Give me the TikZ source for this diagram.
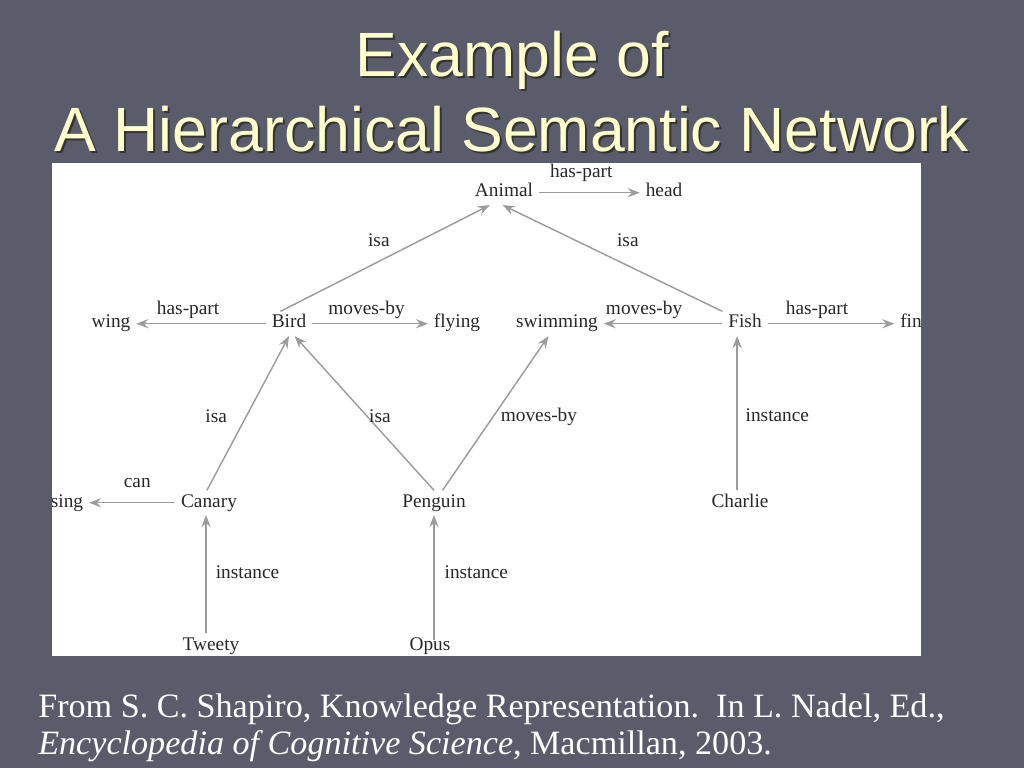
\documentclass[tikz,border=0pt]{standalone}
\usepackage{fontspec}
\setmainfont{Liberation Serif}
\newfontfamily\titlefont{Liberation Sans}
\usepackage{xcolor}
\usepackage{tikz}
\usetikzlibrary{arrows.meta,positioning,calc}
\tikzset{
  txt/.style    ={text=nodeink, font=\fontsize{13.6}{16}\selectfont,
                  text height=9pt, text depth=3pt},
  cnode/.style  ={txt, inner xsep=4pt, inner ysep=2.5pt, anchor=base},
  elabel/.style ={txt, inner sep=1.5pt},
  rarr/.style   ={-{Stealth[length=8.5pt,width=6.5pt,inset=3pt]},
                  draw=edgegray, line width=1pt},
  ttl/.style    ={font=\titlefont\fontsize{44}{52}\selectfont,
                  text=titleyellow, anchor=base, inner sep=0pt},
  ttlshadow/.style={ttl, text=black!80},
  cite/.style   ={font=\fontsize{24}{28}\selectfont, text=white,
                  anchor=base west, inner sep=0pt},
}
\definecolor{slidebg}   {RGB}{90,92,108}
\definecolor{titleyellow}{RGB}{255,255,204}
\definecolor{edgegray}  {RGB}{155,155,155}
\definecolor{nodeink}   {RGB}{40,40,40}

\begin{document}
\begin{tikzpicture}[x=0.703125pt,y=-0.703125pt]
  \useasboundingbox[fill=slidebg] (0,0) rectangle (1024,768);
  % title
  \node[ttlshadow] (title1s) at (514,79) {Example of};
  \node[ttlshadow] (title2s) at (514,154) {A Hierarchical Semantic Network};
  \node[ttl] (title1) at (512,77) {Example of};
  \node[ttl] (title2) at (512,152) {A Hierarchical Semantic Network};
  % panel
  \fill[white] (52,163) rectangle (921,656);
  \begin{scope}
  \clip (52,163) rectangle (921,656);
  \node[cnode] (animal)   at (504,197) {Animal};
  \node[cnode] (head)     at (664,197) {head};
  \node[cnode] (bird)     at (289,328) {Bird};
  \node[cnode] (wing)     at (111,328) {wing};
  \node[cnode] (flying)   at (457,328) {flying};
  \node[cnode] (swimming) at (557,328) {swimming};
  \node[cnode] (fish)     at (745,328) {Fish};
  \node[cnode] (fin)      at (911,328) {fin};
  \node[cnode] (canary)   at (209,507) {Canary};
  \node[cnode] (sing)     at (67,507)  {sing};
  \node[cnode] (penguin)  at (434,507) {Penguin};
  \node[cnode] (charlie)  at (740,507) {Charlie};
  \node[cnode] (tweety)   at (211,650) {Tweety};
  \node[cnode] (opus)     at (430,650) {Opus};

  \draw[rarr](animal)--(head) node[elabel, pos=.42, above=5.5pt] (lanimalhead) {has-part};
  \draw[rarr]([xshift=-6pt]bird.north)--([xshift=-10pt]animal.south)
    node[elabel, pos=.47, above=5.5pt] (lbirdanimal) {isa};
  \draw[rarr](fish.north west)--([xshift=-1pt]animal.south)
    node[elabel, pos=.43, above=8.5pt] (lfishanimal) {isa};
  \draw[rarr](bird)--(wing) node[elabel, pos=.6, above=1.5pt] (lbirdwing) {has-part};
  \draw[rarr](bird)--(flying) node[elabel, pos=.47, above=1.5pt] (lbirdflying) {moves-by};
  \draw[rarr](fish)--(swimming) node[elabel, pos=.66, above=1.5pt] (lfishswim) {moves-by};
  \draw[rarr](fish)--(fin) node[elabel, pos=.39, above=1.5pt] (lfishfin) {has-part};
  \draw[rarr]([xshift=-1.5pt]canary.north)--(bird.south)
    node[elabel, pos=.47, left=11pt] (lcanarybird) {isa};
  \draw[rarr](penguin.north)--([xshift=4pt]bird.south)
    node[elabel, pos=.47, xshift=8pt] (lpenguinbird) {isa};
  \draw[rarr]([xshift=6pt]penguin.north)--([xshift=-6pt]swimming.south)
    node[elabel, pos=.476, right=3.5pt] (lpenguinswim) {moves-by};
  \draw[rarr](canary)--(sing) node[elabel, pos=.44, above=5.5pt] (lcanarysing) {can};
  \draw[rarr]([xshift=-2pt]charlie.north)--([xshift=-2pt]charlie.north |- fish.south)
    node[elabel, pos=.476, right=4pt] (lcharliefish) {instance};
  \draw[rarr]([xshift=-3.5pt]tweety.north)--([xshift=-3.5pt]tweety.north |- canary.south)
    node[elabel, midway, right=4.9pt] (ltweetycanary) {instance};
  \draw[rarr, shorten <=-5pt](opus.north -| penguin.south)--(penguin.south)
    node[elabel, midway, right=5.5pt] (lopuspenguin) {instance};
  \end{scope}
  % source
  \node[cite] (cite1) at (38,717) {From S.\ C. Shapiro, Knowledge Representation.\ \ In L. Nadel, Ed.,};
  \node[cite] (cite2) at (38,754) {\textit{Encyclopedia of Cognitive Science}, Macmillan, 2003.};
\end{tikzpicture}
\end{document}
